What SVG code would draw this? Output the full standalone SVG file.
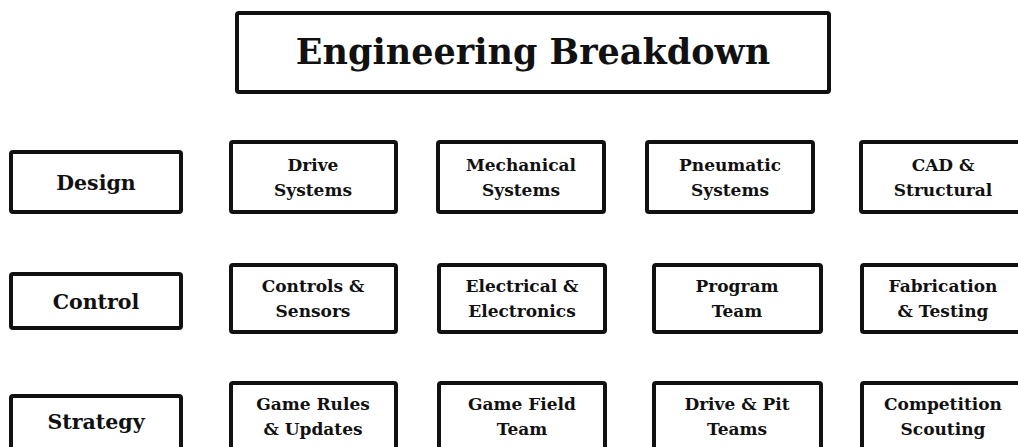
<svg xmlns="http://www.w3.org/2000/svg" width="1018" height="447" viewBox="0 0 1018 447">
  <style>
    .box { fill: #ffffff; stroke: #111111; stroke-width: 4; }
    .t { font-family: "DejaVu Serif", "Liberation Serif", serif; font-weight: bold; fill: #111111; text-anchor: middle; }
    .title { font-size: 35px; }
    .head { font-size: 20.5px; }
    .cell { font-size: 17px; }
  </style>
  <rect width="1018" height="447" fill="#ffffff"/>

  <g id="title">
    <rect class="box" x="237" y="13" width="592" height="79" rx="2"/>
    <text class="t title" x="533" y="64">Engineering Breakdown</text>
  </g>

  <!-- row headers -->
  <g id="design">
    <rect class="box" x="11" y="152" width="170" height="60" rx="2"/>
    <text class="t head" x="96" y="190">Design</text>
  </g>
  <g id="control">
    <rect class="box" x="11" y="274" width="170" height="54" rx="2"/>
    <text class="t head" x="96" y="309">Control</text>
  </g>
  <g id="strategy">
    <rect class="box" x="11" y="396" width="170" height="60" rx="2"/>
    <text class="t head" x="96" y="429">Strategy</text>
  </g>

  <!-- design row -->
  <g id="drive-systems">
    <rect class="box" x="231" y="142" width="165" height="70" rx="2"/>
    <text class="t cell" x="313" y="171">Drive</text>
    <text class="t cell" x="313" y="196">Systems</text>
  </g>
  <g id="mechanical-systems">
    <rect class="box" x="438" y="142" width="166" height="70" rx="2"/>
    <text class="t cell" x="521" y="171">Mechanical</text>
    <text class="t cell" x="521" y="196">Systems</text>
  </g>
  <g id="pneumatic-systems">
    <rect class="box" x="647" y="142" width="166" height="70" rx="2"/>
    <text class="t cell" x="730" y="171">Pneumatic</text>
    <text class="t cell" x="730" y="196">Systems</text>
  </g>
  <g id="cad-structural">
    <rect class="box" x="861" y="142" width="166" height="70" rx="2"/>
    <text class="t cell" x="943" y="171">CAD &amp;</text>
    <text class="t cell" x="943" y="196">Structural</text>
  </g>

  <!-- control row -->
  <g id="controls-sensors">
    <rect class="box" x="231" y="265" width="165" height="67" rx="2"/>
    <text class="t cell" x="313" y="292">Controls &amp;</text>
    <text class="t cell" x="313" y="317">Sensors</text>
  </g>
  <g id="electrical-electronics">
    <rect class="box" x="439" y="265" width="166" height="67" rx="2"/>
    <text class="t cell" x="522" y="292">Electrical &amp;</text>
    <text class="t cell" x="522" y="317">Electronics</text>
  </g>
  <g id="program-team">
    <rect class="box" x="654" y="265" width="167" height="67" rx="2"/>
    <text class="t cell" x="737" y="292">Program</text>
    <text class="t cell" x="737" y="317">Team</text>
  </g>
  <g id="fabrication-testing">
    <rect class="box" x="862" y="265" width="166" height="67" rx="2"/>
    <text class="t cell" x="943" y="292">Fabrication</text>
    <text class="t cell" x="943" y="317">&amp; Testing</text>
  </g>

  <!-- strategy row -->
  <g id="game-rules">
    <rect class="box" x="231" y="383" width="165" height="70" rx="2"/>
    <text class="t cell" x="313" y="410">Game Rules</text>
    <text class="t cell" x="313" y="435">&amp; Updates</text>
  </g>
  <g id="game-field-team">
    <rect class="box" x="439" y="383" width="166" height="70" rx="2"/>
    <text class="t cell" x="522" y="410">Game Field</text>
    <text class="t cell" x="522" y="435">Team</text>
  </g>
  <g id="drive-pit-teams">
    <rect class="box" x="654" y="383" width="167" height="70" rx="2"/>
    <text class="t cell" x="737" y="410">Drive &amp; Pit</text>
    <text class="t cell" x="737" y="435">Teams</text>
  </g>
  <g id="competition-scouting">
    <rect class="box" x="862" y="383" width="166" height="70" rx="2"/>
    <text class="t cell" x="943" y="410">Competition</text>
    <text class="t cell" x="943" y="435">Scouting</text>
  </g>

  <!-- no connectors are drawn between the boxes -->
  <g id="connectors"/>
</svg>
